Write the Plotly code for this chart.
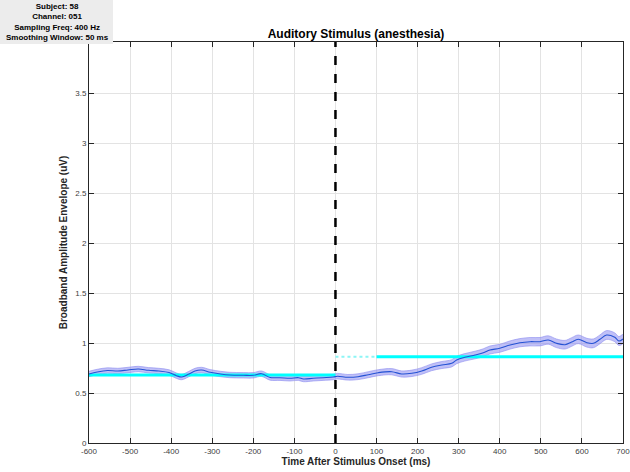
import plotly.graph_objects as go

# Smoothed broadband amplitude envelope (mean and SEM), time in ms
time_ms = [-600, -580, -555, -530, -505, -480, -455, -430, -405, -387, -374, -358,
           -342, -326, -305, -280, -257, -224, -200, -180, -159, -135, -111, -90,
           -78, -54, -30, -5, 5, 30, 55, 80, 104, 137, 161, 186, 210, 234, 259,
           283, 295, 315, 340, 360, 376, 400, 425, 449, 474, 498, 518, 538, 559,
           575, 591, 612, 628, 644, 660, 680, 690, 700]
mean_uv = [0.69, 0.71, 0.725, 0.72, 0.73, 0.74, 0.727, 0.72, 0.705, 0.673, 0.66, 0.687,
           0.72, 0.73, 0.707, 0.69, 0.68, 0.677, 0.677, 0.693, 0.655, 0.653, 0.647, 0.653,
           0.64, 0.647, 0.653, 0.66, 0.668, 0.657, 0.663, 0.683, 0.703, 0.713, 0.69, 0.697,
           0.72, 0.757, 0.78, 0.797, 0.83, 0.857, 0.88, 0.903, 0.93, 0.947, 0.98, 1.003,
           1.013, 1.013, 1.03, 0.997, 0.983, 1.01, 1.037, 1.003, 0.997, 1.037, 1.08, 1.057,
           1.02, 1.04]
sem_uv = [0.027, 0.027, 0.027, 0.027, 0.027, 0.027, 0.027, 0.027, 0.027, 0.027, 0.027, 0.027,
          0.027, 0.027, 0.027, 0.027, 0.027, 0.027, 0.027, 0.027, 0.027, 0.027, 0.027, 0.027,
          0.027, 0.027, 0.027, 0.027, 0.028, 0.028, 0.029, 0.03, 0.03, 0.031, 0.031, 0.032,
          0.033, 0.034, 0.035, 0.036, 0.037, 0.037, 0.038, 0.039, 0.04, 0.04, 0.041, 0.041,
          0.042, 0.042, 0.042, 0.043, 0.043, 0.043, 0.043, 0.044, 0.044, 0.044, 0.044, 0.044,
          0.044, 0.044]

# Baseline mean (pre-stimulus) and significance threshold (post-stimulus)
baseline_t = [-600, 0]
baseline_v = [0.68, 0.68]
thresh_dotted_t = [0, 100]
thresh_solid_t = [100, 700]
thresh_v = 0.863

xtick_vals = [-600, -500, -400, -300, -200, -100, 0, 100, 200, 300, 400, 500, 600, 700]
xtick_text = ["-600", "-500", "-400", "-300", "-200", "-100", "0", "100", "200", "300",
              "400", "500", "600", "700"]
ytick_vals = [0, 0.5, 1, 1.5, 2, 2.5, 3, 3.5]
ytick_text = ["0", "0.5", "1", "1.5", "2", "2.5", "3", "3.5"]

upper = [m + s for m, s in zip(mean_uv, sem_uv)]
lower = [m - s for m, s in zip(mean_uv, sem_uv)]

fig = go.Figure()

# SEM band
fig.add_trace(go.Scatter(x=time_ms + time_ms[::-1], y=upper + lower[::-1],
                         fill="toself", fillcolor="rgba(140,140,240,0.55)",
                         line=dict(color="rgba(140,140,240,0.6)", width=1, shape="spline"),
                         hoverinfo="skip", showlegend=False))

# Baseline and threshold lines
fig.add_trace(go.Scatter(x=baseline_t, y=baseline_v, mode="lines",
                         line=dict(color="#00ffff", width=3), showlegend=False))
fig.add_trace(go.Scatter(x=thresh_dotted_t, y=[thresh_v, thresh_v], mode="lines",
                         line=dict(color="#8cf5f5", width=2, dash="dot"), showlegend=False))
fig.add_trace(go.Scatter(x=thresh_solid_t, y=[thresh_v, thresh_v], mode="lines",
                         line=dict(color="#00ffff", width=3), showlegend=False))

# Mean envelope
fig.add_trace(go.Scatter(x=time_ms, y=mean_uv, mode="lines",
                         line=dict(color="#2452d4", width=1.1, shape="spline"),
                         showlegend=False))

# Stimulus onset marker
fig.add_shape(type="line", x0=0, x1=0, y0=0, y1=4.01, xref="x", yref="y",
              line=dict(color="black", width=2.5, dash="dash"))

axis_common = dict(showline=True, linecolor="#262626", linewidth=1, mirror="ticks",
                   ticks="inside", ticklen=5, tickcolor="#262626",
                   showgrid=True, gridcolor="#e3e3e3", gridwidth=1, zeroline=False,
                   ticklabeloverflow="allow",
                   tickfont=dict(family="Liberation Sans, Arial", size=8, color="#404040"))

fig.update_xaxes(range=[-600, 700], tickmode="array", tickvals=xtick_vals, ticktext=xtick_text,
                 title=dict(text="<b>Time After Stimulus Onset (ms)</b>", standoff=3,
                            font=dict(family="Liberation Sans, Arial", size=10, color="#262626")),
                 **axis_common)
fig.update_yaxes(range=[0, 4.01], tickmode="array", tickvals=ytick_vals, ticktext=ytick_text,
                 title=dict(text="<b>Broadband Amplitude Envelope (uV)</b>", standoff=5,
                            font=dict(family="Liberation Sans, Arial", size=10, color="#262626")),
                 **axis_common)

fig.update_layout(
    width=630, height=472,
    margin=dict(l=89, r=7, t=42, b=29, autoexpand=False),
    plot_bgcolor="white", paper_bgcolor="white",
    title=dict(text="<b>Auditory Stimulus (anesthesia)</b>", x=0.5, xanchor="center",
               xref="paper", y=1, yref="paper", yanchor="bottom", pad=dict(b=4),
               font=dict(family="Liberation Sans, Arial", size=12, color="black")),
)

# Recording info box
fig.add_shape(type="rect", xref="paper", yref="paper", x0=-89 / 534, x1=(113 - 89) / 534,
              y0=1 + (42 - 44) / 401, y1=1 + 42 / 401,
              fillcolor="#ececec", line=dict(width=0), layer="above")
fig.add_annotation(xref="paper", yref="paper", x=(57 - 89) / 534, y=1 + (42 - 22) / 401,
                   xanchor="center", yanchor="middle", showarrow=False, align="center",
                   text="<b>Subject: 58<br>Channel: 051<br>Sampling Freq: 400 Hz<br>"
                        "Smoothing Window: 50 ms</b>",
                   font=dict(family="Liberation Sans, Arial", size=8, color="black"))

fig.write_html("out.html")
